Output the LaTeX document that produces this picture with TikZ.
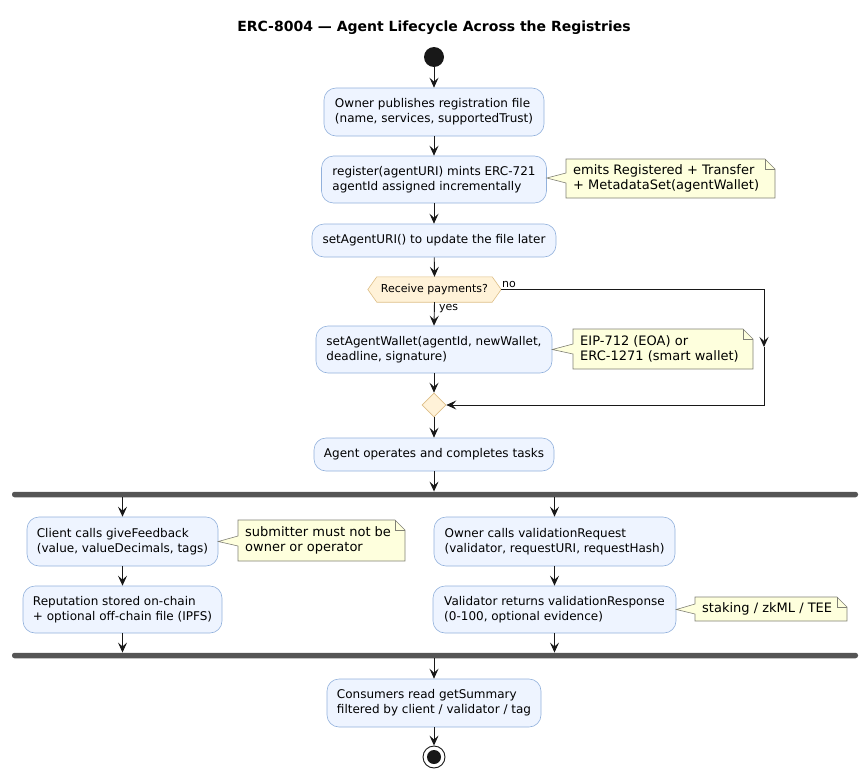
\documentclass[tikz,border=0pt]{standalone}
\usepackage{fontspec}
\setmainfont{DejaVu Sans}
\usetikzlibrary{arrows.meta,shapes.geometric}
\definecolor{actfill}{HTML}{EEF4FF}
\definecolor{actborder}{HTML}{92B1DC}
\definecolor{notefill}{HTML}{FEFFDD}
\definecolor{noteborder}{HTML}{808075}
\definecolor{hexfill}{HTML}{FFF2D8}
\definecolor{hexborder}{HTML}{DDBE86}
\definecolor{linec}{HTML}{181818}
\definecolor{barc}{HTML}{555555}
\begin{document}
\begin{tikzpicture}[x=1pt,y=-1pt,
  act/.style={draw=actborder, fill=actfill, rounded corners=12pt, align=left,
    inner xsep=0pt, inner ysep=0pt, line width=0.6pt,
    font=\fontsize{12}{15}\selectfont},
  arr/.style={draw=linec, line width=0.9pt, -{Stealth[length=10pt,width=9pt,inset=4pt]}},
  notebox/.style={draw=noteborder, fill=notefill, line width=0.6pt},
  notetext/.style={anchor=west, align=left, inner sep=0pt, font=\fontsize{13}{15.5}\selectfont},
  barst/.style={fill=barc, draw=none, rounded corners=2.5pt, minimum width=846pt, minimum height=5.5pt, inner sep=0pt},
  small/.style={font=\fontsize{11}{13}\selectfont, inner sep=0pt}
]
\useasboundingbox (0,0) rectangle (868,779);

% title
\node[font=\fontsize{14}{16}\selectfont\bfseries] (title) at (434,28) {ERC-8004 — Agent Lifecycle Across the Registries};

% start
\node[circle, fill=linec, minimum size=20pt, inner sep=0pt] (start) at (434,57) {};

% activities
\node[act, minimum width=220pt, minimum height=48pt] (b1) at (434,112) {Owner publishes registration file\\(name, services, supportedTrust)};
\node[act, minimum width=225pt, minimum height=47pt] (b2) at (434,179.5) {register(agentURI) mints ERC-721\\agentId assigned incrementally};
\node[act, minimum width=244pt, minimum height=33pt] (b3) at (434,240.5) {setAgentURI() to update the file later};

% decision hexagon
\node[small, minimum width=115pt, minimum height=25pt] (hex) at (434.5,289.5) {Receive payments?};
\coordinate (hexL) at ([xshift=-9pt]hex.west);
\coordinate (hexR) at ([xshift=9pt]hex.east);
\draw[fill=hexfill, draw=hexborder, line width=0.6pt] (hexL) -- (hex.north west) -- (hex.north east) -- (hexR) -- (hex.south east) -- (hex.south west) -- cycle;
\node[small] at (hex) {Receive payments?};

\node[act, minimum width=236pt, minimum height=47pt] (b4) at (434,349.5) {setAgentWallet(agentId, newWallet,\\deadline, signature)};

% merge diamond
\node[diamond, aspect=1, draw=hexborder, fill=hexfill, line width=0.6pt, minimum size=24pt, inner sep=0pt] (merge) at (434,405) {};

\node[act, minimum width=240pt, minimum height=33pt] (b5) at (434,454.5) {Agent operates and completes tasks};

% fork / join bars
\node[barst] (fork) at (435,494.5) {};
\node[barst] (join) at (435,655.5) {};

\node[act, minimum width=191pt, minimum height=49pt] (b6) at (122.5,541.5) {Client calls giveFeedback\\(value, valueDecimals, tags)};
\node[act, minimum width=199pt, minimum height=47pt] (b7) at (122.5,609.5) {Reputation stored on-chain\\+ optional off-chain file (IPFS)};
\node[act, minimum width=241pt, minimum height=49pt] (b8) at (554.5,541.5) {Owner calls validationRequest\\(validator, requestURI, requestHash)};
\node[act, minimum width=243pt, minimum height=47pt] (b9) at (554.5,609.5) {Validator returns validationResponse\\(0-100, optional evidence)};

\node[act, minimum width=214pt, minimum height=48pt] (b10) at (434,703) {Consumers read getSummary\\filtered by client / validator / tag};

% end
\node[circle, draw=linec, fill=white, line width=0.9pt, minimum size=22pt, inner sep=0pt] (endo) at (434,757) {};
\node[circle, fill=linec, minimum size=14pt, inner sep=0pt] (endi) at (434,757) {};

% notes
\draw[notebox] (566,159) -- (765,159) -- (775,169) -- (775,198) -- (566,198) -- (566,183) -- (b2.east |- 0,178) -- (566,173) -- cycle;
\draw[noteborder, line width=0.6pt] (765,159) -- (765,169) -- (775,169);
\node[notetext] (n1) at (573,178.5) {emits Registered + Transfer\\+ MetadataSet(agentWallet)};

\draw[notebox] (573,329) -- (743,329) -- (753,339) -- (753,369) -- (573,369) -- (573,354) -- (b4.east) -- (573,344) -- cycle;
\draw[noteborder, line width=0.6pt] (743,329) -- (743,339) -- (753,339);
\node[notetext] (n2) at (580,349) {EIP-712 (EOA) or\\ERC-1271 (smart wallet)};

\draw[notebox] (238,520) -- (395,520) -- (405,530) -- (405,561) -- (238,561) -- (238,546) -- (b6.east) -- (238,536) -- cycle;
\draw[noteborder, line width=0.6pt] (395,520) -- (395,530) -- (405,530);
\node[notetext] (n3) at (245,540.5) {submitter must not be\\owner or operator};

\draw[notebox] (695,597) -- (837,597) -- (847,607) -- (847,621) -- (695,621) -- (695,614) -- (b9.east) -- (695,604) -- cycle;
\draw[noteborder, line width=0.6pt] (837,597) -- (837,607) -- (847,607);
\node[notetext] (n4) at (702,609) {staking / zkML / TEE};

% connectors
\draw[arr] (start) -- (b1);
\draw[arr] (b1) -- (b2);
\draw[arr] (b2) -- (b3);
\draw[arr] (b3) -- (hex.north);
\draw[arr] (hex.south) -- (b4.north);
\node[small, anchor=west] (yes) at (439,309) {yes};
\node[small, anchor=west] (no) at (502,284) {no};
\coordinate (mid) at (764,347);
\draw[arr] (hexR) -| (mid);
\draw[arr] (mid) |- (merge.east);
\draw[arr] (b4) -- (merge.north);
\draw[arr] (merge.south) -- (b5.north);
\draw[arr] (b5.south) -- (b5.south |- fork.north);
\draw[arr] (b6.north |- fork.south) -- (b6.north);
\draw[arr] (b8.north |- fork.south) -- (b8.north);
\draw[arr] (b6) -- (b7);
\draw[arr] (b8) -- (b9);
\draw[arr] (b7.south) -- (b7.south |- join.north);
\draw[arr] (b9.south) -- (b9.south |- join.north);
\draw[arr] (b10.north |- join.south) -- (b10.north);
\draw[arr] (b10) -- (endo);
\end{tikzpicture}
\end{document}
